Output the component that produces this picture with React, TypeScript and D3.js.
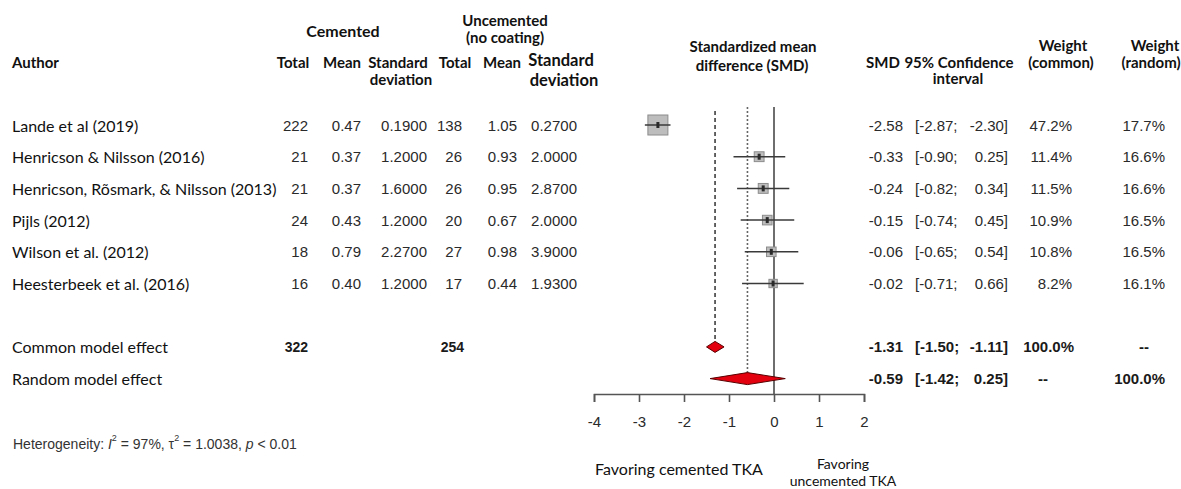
import React, { useEffect, useRef } from 'react';
import * as d3 from 'd3';

// study rows
const authors = [
  'Lande et al (2019)',
  'Henricson & Nilsson (2016)',
  'Henricson, Rõsmark, & Nilsson (2013)',
  'Pijls (2012)',
  'Wilson et al. (2012)',
  'Heesterbeek et al. (2016)',
];
const cemTotal = [222, 21, 21, 24, 18, 16];
const cemMean = [0.47, 0.37, 0.37, 0.43, 0.79, 0.40];
const cemSd = [0.19, 1.2, 1.6, 1.2, 2.27, 1.2];
const uncTotal = [138, 26, 26, 20, 27, 17];
const uncMean = [1.05, 0.93, 0.95, 0.67, 0.98, 0.44];
const uncSd = [0.27, 2.0, 2.87, 2.0, 3.9, 1.93];
const smd = [-2.58, -0.33, -0.24, -0.15, -0.06, -0.02];
const ciLow = [-2.87, -0.90, -0.82, -0.74, -0.65, -0.71];
const ciHigh = [-2.30, 0.25, 0.34, 0.45, 0.54, 0.66];
const weightCommon = [47.2, 11.4, 11.5, 10.9, 10.8, 8.2];
const weightRandom = [17.7, 16.6, 16.6, 16.5, 16.5, 16.1];

// pooled rows
const summaryLabels = ['Common model effect', 'Random model effect'];
const summaryEst = [-1.31, -0.59];
const summaryLow = [-1.50, -1.42];
const summaryHigh = [-1.11, 0.25];
const summaryWCommon = ['100.0%', '--'];
const summaryWRandom = ['--', '100.0%'];
const pooledTotals = [322, 254];

const xTicks = [-4, -3, -2, -1, 0, 1, 2];

const LATO = 'Lato, "Open Sans", sans-serif';
const ARIAL = '"Liberation Sans", Arial, sans-serif';

export default function App() {
  const ref = useRef<SVGSVGElement>(null);

  useEffect(() => {
    const svg = d3.select(ref.current);
    svg.selectAll('*').remove();

    const x = d3.scaleLinear().domain([-4, 2]).range([594, 864]);
    const rowY = d3.scaleLinear().domain([0, 1]).range([125, 156.7]);
    const boxSize = d3.scaleSqrt().domain([0, 47.2]).range([0, 20]);
    const f2 = d3.format('.2f');
    const f4 = d3.format('.4f');
    const fmtSigned = (v: number) => f2(v).replace('−', '-');

    const txt = (s: string, px: number, py: number, opts: any = {}) => {
      const t = svg.append('text')
        .attr('x', px)
        .attr('y', py)
        .attr('dominant-baseline', 'central')
        .attr('text-anchor', opts.anchor || 'start')
        .attr('font-family', opts.font || LATO)
        .attr('font-size', opts.size || 16)
        .attr('font-weight', opts.bold ? 'bold' : 'normal')
        .attr('fill', opts.color || '#111')
        .text(s);
      return t;
    };

    // ---- headers
    const hb = { bold: true, anchor: 'middle', size: 15 };
    txt('Cemented', 343, 30, { ...hb, size: 16 });
    txt('Uncemented', 505, 20, hb);
    txt('(no coating)', 505, 37, hb);
    txt('Author', 12, 62, { bold: true, size: 15 });
    txt('Total', 293, 62, hb);
    txt('Mean', 342, 62, hb);
    txt('Standard', 398, 62, hb);
    txt('deviation', 401, 79, hb);
    txt('Total', 455, 62, hb);
    txt('Mean', 502, 62, hb);
    txt('Standard', 561, 60, { ...hb, size: 16.5 });
    txt('deviation', 564, 80, { ...hb, size: 16.5 });
    txt('Standardized mean', 753, 46, hb);
    txt('difference (SMD)', 752, 65, hb);
    txt('SMD', 883, 62, hb);
    txt('95% Confidence', 959, 62, hb);
    txt('interval', 958, 78, hb);
    txt('Weight', 1063, 45, hb);
    txt('(common)', 1061, 62, hb);
    txt('Weight', 1155, 45, hb);
    txt('(random)', 1151, 62, hb);

    // ---- study table
    const num = { font: ARIAL, size: 15, anchor: 'end', color: '#2a2a2a' };
    authors.forEach((a, i) => {
      const y = rowY(i);
      txt(a, 12, y, { size: 16 });
      txt(String(cemTotal[i]), 308, y, num);
      txt(f2(cemMean[i]), 361, y, num);
      txt(f4(cemSd[i]), 427, y, num);
      txt(String(uncTotal[i]), 462, y, num);
      txt(f2(uncMean[i]), 517, y, num);
      txt(f4(uncSd[i]), 577, y, num);
      txt(fmtSigned(smd[i]), 903, y, num);
      txt('[' + fmtSigned(ciLow[i]) + ';', 915, y, { ...num, anchor: 'start' });
      txt(fmtSigned(ciHigh[i]) + ']', 1008, y, num);
      txt(weightCommon[i].toFixed(1) + '%', 1072, y, num);
      txt(weightRandom[i].toFixed(1) + '%', 1165, y, num);
    });

    // ---- pooled rows
    const numB = { ...num, bold: true, color: '#1a1a1a' };
    summaryLabels.forEach((lab, j) => {
      const y = rowY(7 + j);
      txt(lab, 12, y, { size: 16 });
      txt(fmtSigned(summaryEst[j]), 903, y, numB);
      txt('[' + fmtSigned(summaryLow[j]) + ';', 915, y, { ...numB, anchor: 'start' });
      txt(fmtSigned(summaryHigh[j]) + ']', 1008, y, numB);
      if (summaryWCommon[j] === '--') txt('--', 1043, y, { ...numB, anchor: 'middle' });
      else txt(summaryWCommon[j], 1074, y, numB);
      if (summaryWRandom[j] === '--') txt('--', 1144, y, { ...numB, anchor: 'middle' });
      else txt(summaryWRandom[j], 1165, y, numB);
    });
    txt(String(pooledTotals[0]), 308, rowY(7), { ...numB, size: 14 });
    txt(String(pooledTotals[1]), 464, rowY(7), { ...numB, size: 14 });

    // ---- forest plot
    const axisY = 394;
    const plot = svg.append('g');

    // zero line
    plot.append('line')
      .attr('x1', x(0)).attr('x2', x(0))
      .attr('y1', 107).attr('y2', axisY)
      .attr('stroke', '#6e6e6e').attr('stroke-width', 2);

    // common effect reference (dashed)
    plot.append('line')
      .attr('x1', x(summaryEst[0])).attr('x2', x(summaryEst[0]))
      .attr('y1', 111).attr('y2', rowY(7) - 5)
      .attr('stroke', '#4a4a4a').attr('stroke-width', 1.7)
      .attr('stroke-dasharray', '4,3');

    // random effect reference (dotted)
    plot.append('line')
      .attr('x1', x(summaryEst[1])).attr('x2', x(summaryEst[1]))
      .attr('y1', 107).attr('y2', rowY(8) - 5)
      .attr('stroke', '#666').attr('stroke-width', 1.6)
      .attr('stroke-dasharray', '2,2');

    smd.forEach((m, i) => {
      const y = rowY(i);
      const s = boxSize(weightCommon[i]);
      plot.append('rect')
        .attr('x', x(m) - s / 2).attr('y', y - s / 2)
        .attr('width', s).attr('height', s)
        .attr('fill', '#bdbdbd').attr('stroke', '#8c8c8c').attr('stroke-width', 1);
      plot.append('line')
        .attr('x1', x(ciLow[i])).attr('x2', x(ciHigh[i]))
        .attr('y1', y).attr('y2', y)
        .attr('stroke', '#3a3a3a').attr('stroke-width', 1.5);
      plot.append('rect')
        .attr('x', x(m) - 1.5).attr('y', y - 3)
        .attr('width', 3).attr('height', 6)
        .attr('fill', '#2a2a2a');
    });

    // diamonds
    const halfH = [5.5, 6];
    summaryEst.forEach((m, j) => {
      const y = rowY(7 + j);
      const pts: [number, number][] = [
        [x(summaryLow[j]), y],
        [x(m), y - halfH[j]],
        [x(summaryHigh[j]), y],
        [x(m), y + halfH[j]],
      ];
      plot.append('path')
        .attr('d', d3.line()(pts) + 'Z')
        .attr('fill', '#e3000f')
        .attr('stroke', '#5a0000')
        .attr('stroke-width', 1);
    });

    // x axis
    const ax = plot.append('g')
      .attr('transform', `translate(0,${axisY})`)
      .call(d3.axisBottom(x).tickValues(xTicks).tickSize(8).tickPadding(14)
        .tickFormat((d: any) => String(d)));
    ax.select('.domain').attr('stroke', '#555').attr('stroke-width', 1.6);
    ax.selectAll('.tick line').attr('stroke', '#555').attr('stroke-width', 1.6);
    ax.selectAll('.tick text')
      .attr('font-family', ARIAL).attr('font-size', 15).attr('fill', '#2a2a2a');

    // direction labels
    txt('Favoring cemented TKA', 679, 468, { anchor: 'middle', size: 16 });
    txt('Favoring', 843, 463, { anchor: 'middle', size: 14 });
    txt('uncemented TKA', 843, 480, { anchor: 'middle', size: 14 });

    // heterogeneity
    const het = svg.append('text')
      .attr('x', 13).attr('y', 444)
      .attr('dominant-baseline', 'central')
      .attr('font-family', ARIAL).attr('font-size', 14).attr('fill', '#333');
    het.append('tspan').text('Heterogeneity: ');
    het.append('tspan').attr('font-style', 'italic').text('I');
    het.append('tspan').attr('font-size', 9).attr('dy', -6).text('2');
    het.append('tspan').attr('dy', 6).text(' = 97%, τ');
    het.append('tspan').attr('font-size', 9).attr('dy', -6).text('2');
    het.append('tspan').attr('dy', 6).text(' = 1.0038, ');
    het.append('tspan').attr('font-style', 'italic').text('p');
    het.append('tspan').text(' < 0.01');
  }, []);

  return (
    <svg
      ref={ref}
      width={1181}
      height={489}
      style={{ position: 'absolute', left: 0, top: 0, background: '#fff' }}
    />
  );
}
